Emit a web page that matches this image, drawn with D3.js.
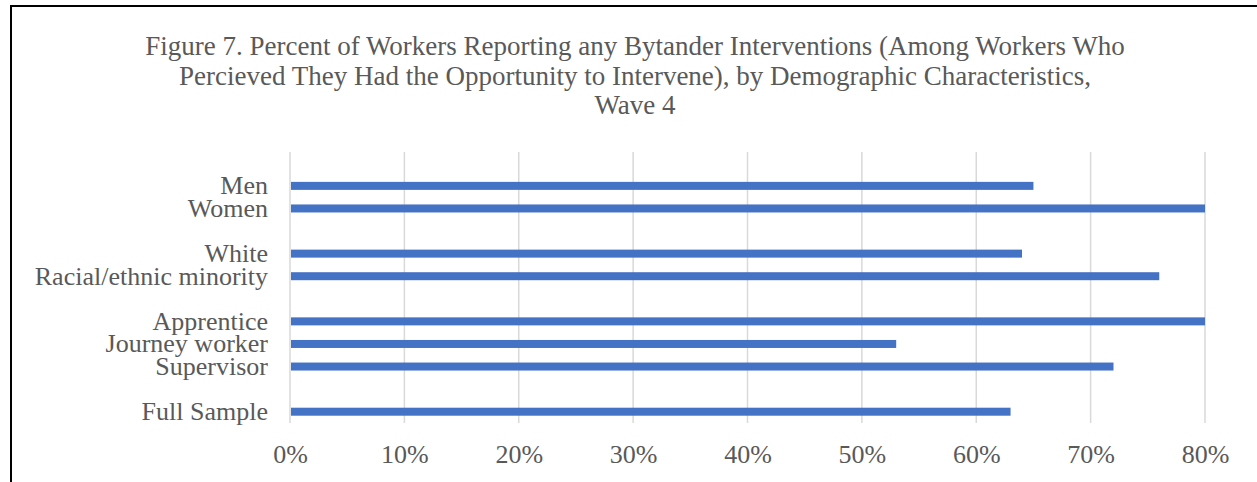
<!DOCTYPE html>
<html>
<head>
<meta charset="utf-8">
<script src="https://cdn.jsdelivr.net/npm/d3@7"></script>
<style>
  body { margin: 0; background: #fff; }
  text { font-family: "Liberation Serif", "Times New Roman", serif; fill: #595959; }
</style>
</head>
<body>
<div id="chart"></div>
<script>
// categories top to bottom, "" marks the empty spacer rows
const categories = ["", "Men", "Women", "", "White", "Racial/ethnic minority", "",
  "Apprentice", "Journey worker", "Supervisor", "", "Full Sample"];
const values = [null, 0.65, 0.80, null, 0.64, 0.76, null, 0.80, 0.53, 0.72, null, 0.63];
const ticks = [0, 0.1, 0.2, 0.3, 0.4, 0.5, 0.6, 0.7, 0.8];
const titleLines = [
  "Figure 7. Percent of Workers Reporting any Bytander Interventions (Among Workers Who",
  "Percieved They Had the Opportunity to Intervene), by Demographic Characteristics,",
  "Wave 4"
];

const width = 1257, height = 482;
const margin = {top: 152, right: 52, bottom: 59, left: 290};

const svg = d3.select("#chart").append("svg")
    .attr("width", width)
    .attr("height", height);

// frame (left and top edges only visible)
svg.append("line").attr("x1", 11).attr("x2", 11).attr("y1", 6).attr("y2", height)
    .attr("stroke", "#000").attr("stroke-width", 2);
svg.append("line").attr("x1", 10).attr("x2", width).attr("y1", 6).attr("y2", 6)
    .attr("stroke", "#000").attr("stroke-width", 2);

const x = d3.scaleLinear().domain([0, 0.8]).range([margin.left, width - margin.right]);
const y = d3.scaleBand().domain(d3.range(categories.length))
    .range([margin.top, height - margin.bottom]);

// title
svg.append("g").selectAll("text")
  .data(titleLines)
  .join("text")
    .attr("x", 635)
    .attr("y", (d, i) => 55 + i * 29.5)
    .attr("text-anchor", "middle")
    .style("font-size", "27px")
    .text(d => d);

// gridlines
svg.append("g").selectAll("line")
  .data(ticks)
  .join("line")
    .attr("x1", d => x(d)).attr("x2", d => x(d))
    .attr("y1", margin.top).attr("y2", height - margin.bottom)
    .attr("stroke", "#d9d9d9").attr("stroke-width", 1.5);

// x axis labels
const xAxis = d3.axisBottom(x).tickValues(ticks).tickFormat(d3.format(".0%")).tickSize(0).tickPadding(0);
const gx = svg.append("g")
    .attr("transform", `translate(0,${height - margin.bottom})`)
    .call(xAxis);
gx.select(".domain").remove();
gx.selectAll("text")
    .attr("y", 40)
    .attr("dy", 0)
    .style("font-size", "26px")
    .style("font-family", "'Liberation Serif', 'Times New Roman', serif")
    .attr("fill", "#595959");

// y axis labels
const yAxis = d3.axisLeft(y).tickFormat(i => categories[i]).tickSize(0).tickPadding(22);
const gy = svg.append("g")
    .attr("transform", `translate(${margin.left},0)`)
    .call(yAxis);
gy.select(".domain").remove();
gy.selectAll("text")
    .style("font-size", "26px")
    .style("font-family", "'Liberation Serif', 'Times New Roman', serif")
    .attr("fill", "#595959");

// bars
const barH = 8;
svg.append("g").selectAll("rect")
  .data(values.map((v, i) => ({v, i})).filter(d => d.v !== null))
  .join("rect")
    .attr("x", x(0) + 1)
    .attr("y", d => y(d.i) + y.bandwidth() / 2 - barH / 2)
    .attr("width", d => x(d.v) - x(0) - 1)
    .attr("height", barH)
    .attr("fill", "#4472c4");
</script>
</body>
</html>
